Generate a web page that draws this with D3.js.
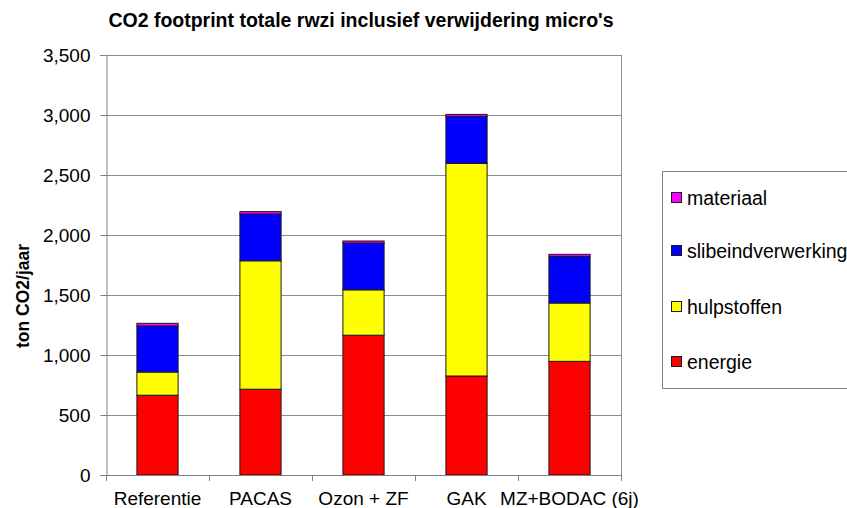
<!DOCTYPE html>
<html>
<head>
<meta charset="utf-8">
<script src="https://cdn.jsdelivr.net/npm/d3@7"></script>
<style>
  body { margin: 0; background: #fff; }
  svg { display: block; font-family: "Liberation Sans", Arial, sans-serif; }
</style>
</head>
<body>
<svg id="chart" width="847" height="508"></svg>
<script>
// Scenarios and their CO2 contributions (ton CO2/jaar)
const categories = ["Referentie", "PACAS", "Ozon + ZF", "GAK", "MZ+BODAC (6j)"];
const energie = [665, 715, 1165, 825, 947];
const hulpstoffen = [193, 1070, 378, 1772, 486];
const slibeindverwerking = [384, 390, 390, 392, 389];
const materiaal = [22, 20, 17, 16, 17];

const seriesNames = ["energie", "hulpstoffen", "slibeindverwerking", "materiaal"];
const seriesColors = ["#FF0000", "#FFFF00", "#0000FF", "#FF00FF"];
const yTicks = [0, 500, 1000, 1500, 2000, 2500, 3000, 3500];

const rows = categories.map((c, i) => ({
  cat: c,
  energie: energie[i],
  hulpstoffen: hulpstoffen[i],
  slibeindverwerking: slibeindverwerking[i],
  materiaal: materiaal[i]
}));

const svg = d3.select("#chart");
const plot = { left: 106, right: 621, top: 55, bottom: 475 };

const x = d3.scaleBand()
  .domain(categories)
  .range([plot.left, plot.right])
  .paddingInner(0.6)
  .paddingOuter(0.3);

const y = d3.scaleLinear().domain([0, 3500]).range([plot.bottom, plot.top]);

const stack = d3.stack().keys(seriesNames)(rows);

// Title
svg.append("text")
  .attr("x", 361).attr("y", 27)
  .attr("text-anchor", "middle")
  .attr("font-size", 19.5).attr("font-weight", "bold")
  .text("CO2 footprint totale rwzi inclusief verwijdering micro's");

// Horizontal gridlines
svg.append("g")
  .selectAll("line")
  .data(yTicks.filter(d => d > 0))
  .join("line")
  .attr("x1", plot.left).attr("x2", plot.right)
  .attr("y1", d => Math.round(y(d)) + 0.5).attr("y2", d => Math.round(y(d)) + 0.5)
  .attr("stroke", "#8c8c8c").attr("stroke-width", 1);

// Right border of plot area
svg.append("line")
  .attr("x1", plot.right + 0.5).attr("x2", plot.right + 0.5)
  .attr("y1", plot.top).attr("y2", plot.bottom)
  .attr("stroke", "#8c8c8c");

// Stacked bars
svg.append("g")
  .selectAll("g")
  .data(stack)
  .join("g")
  .attr("fill", (d, i) => seriesColors[i])
  .selectAll("rect")
  .data(d => d)
  .join("rect")
  .attr("x", d => x(d.data.cat))
  .attr("width", x.bandwidth())
  .attr("y", d => y(d[1]))
  .attr("height", d => y(d[0]) - y(d[1]))
  .attr("stroke", "#1a1a1a")
  .attr("stroke-width", 1);

// Y axis
const yAxis = d3.axisLeft(y)
  .tickValues(yTicks)
  .tickFormat(d3.format(","))
  .tickSize(6)
  .tickPadding(10);
const gy = svg.append("g")
  .attr("transform", `translate(${plot.left + 0.5},0)`)
  .call(yAxis);
gy.select(".domain").attr("stroke", "#808080");
gy.selectAll(".tick line").attr("stroke", "#808080");
gy.selectAll(".tick text")
  .attr("font-size", 19).attr("fill", "#000")
  .attr("font-family", "Liberation Sans, Arial, sans-serif");

// X axis with ticks between categories
const step = x.step();
const boundaries = d3.range(categories.length + 1).map(i => plot.left + i * step);
const gx = svg.append("g");
gx.append("line")
  .attr("x1", plot.left).attr("x2", plot.right + 1)
  .attr("y1", plot.bottom + 0.5).attr("y2", plot.bottom + 0.5)
  .attr("stroke", "#808080");
gx.selectAll("line.tick")
  .data(boundaries)
  .join("line")
  .attr("class", "tick")
  .attr("x1", d => Math.round(d) + 0.5).attr("x2", d => Math.round(d) + 0.5)
  .attr("y1", plot.bottom).attr("y2", plot.bottom + 6)
  .attr("stroke", "#808080");
gx.selectAll("text")
  .data(categories)
  .join("text")
  .attr("x", d => x(d) + x.bandwidth() / 2)
  .attr("y", 505)
  .attr("text-anchor", "middle")
  .attr("font-size", 19)
  .text(d => d);

// Y axis title
svg.append("text")
  .attr("transform", "translate(29,296) rotate(-90)")
  .attr("text-anchor", "middle")
  .attr("font-size", 17.5).attr("font-weight", "bold")
  .text("ton CO2/jaar");

// Legend (top entry = top of stack)
const legend = svg.append("g");
legend.append("rect")
  .attr("x", 662.5).attr("y", 171.5)
  .attr("width", 200).attr("height", 217)
  .attr("fill", "#fff").attr("stroke", "#808080");
const legendY = [362, 307, 251, 198];
seriesNames.forEach((name, i) => {
  legend.append("rect")
    .attr("x", 671.5).attr("y", legendY[i] - 5.5)
    .attr("width", 10).attr("height", 10)
    .attr("fill", seriesColors[i]).attr("stroke", "#1a1a1a");
  legend.append("text")
    .attr("x", 687).attr("y", legendY[i] + 7)
    .attr("font-size", 19.5)
    .text(name);
});
</script>
</body>
</html>
